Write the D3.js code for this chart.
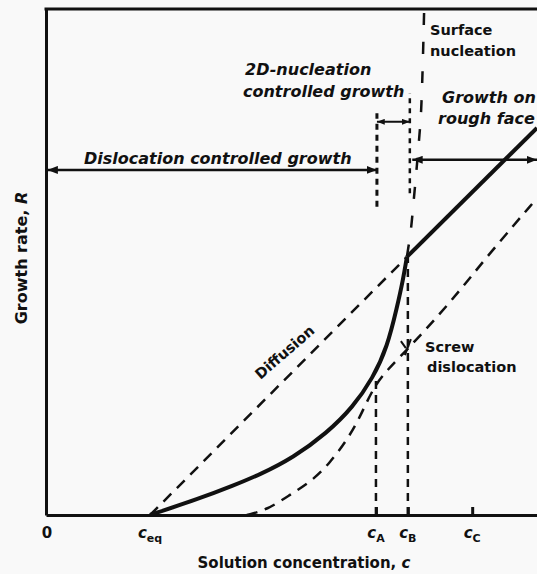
<!DOCTYPE html>
<html lang="en">
<head>
<meta charset="UTF-8">
<title>Growth rate vs solution concentration</title>
<script src="https://d3js.org/d3.v7.min.js"></script>
<style>
  body { margin: 0; background: #f9f9f9; }
  svg text { font-family: "DejaVu Sans", sans-serif; fill: #111; }
  .lbl { font-weight: bold; font-style: italic; font-size: 16px; }
  .note { font-weight: bold; font-size: 14.5px; }
  .axtitle { font-weight: bold; font-size: 15px; }
  .tick-lbl { font-weight: bold; font-size: 15px; }
</style>
</head>
<body>
<svg width="537" height="574"></svg>
<script>
// concentrations on the x axis (arbitrary units 0..100)
const cEq = 21.2, cA = 67.2, cB = 73.7, cC = 86.8;
const tickValues = [0, cEq, cA, cB, cC];
const tickMain = ["0", "c", "c", "c", "c"];
const tickSub = ["", "eq", "A", "B", "C"];

// curves as [c, R] pairs (R in arbitrary units 0..100)
const growthCurve = [[21.2, 0], [31.4, 3.3], [38.1, 5.8], [43.6, 8.0], [50.3, 11.3],
  [57.2, 16.2], [62.5, 21.3], [66.6, 27.1], [69.5, 33.2], [71.5, 41.1], [72.7, 46.4], [73.5, 51.0]];
const roughFace = [[73.5, 51.0], [100, 76.5]];
const diffusion = [[21.2, 0], [73.5, 51.0]];
const screw = [[40.9, 0], [45.0, 1.0], [49.7, 4.0], [54.4, 6.9], [57.8, 10.3], [61.3, 14.8],
  [64.0, 19.4], [66.6, 25.1], [69.5, 28.7], [73.5, 32.6], [82.3, 41.9], [90.4, 51.8], [100, 62.6]];
const surfaceNuc = [[77.0, 99.2], [76.4, 80.0], [75.8, 72.1], [74.9, 62.3], [74.3, 56.3], [73.5, 51.0]];

// regime boundaries / arrows (data units)
const cA2 = 67.4, cB2 = 74.1, cRough = 74.6;
const dislocArrowR = 68.2, nuclArrowR = 77.7, roughArrowR = 70.2;
const boundA = [60.9, 79.4], boundB = [63.6, 83.4];

const svg = d3.select("svg");
const x = d3.scaleLinear().domain([0, 100]).range([46, 537]);
const y = d3.scaleLinear().domain([0, 100]).range([515, 9]);
const ink = "#111";

// arrow heads
const defs = svg.append("defs");
function marker(id, size) {
  defs.append("marker").attr("id", id)
    .attr("markerUnits", "userSpaceOnUse")
    .attr("markerWidth", size * 1.3).attr("markerHeight", size)
    .attr("refX", size * 1.3).attr("refY", size / 2)
    .attr("orient", "auto-start-reverse")
    .append("path")
    .attr("d", `M0,0 L${size * 1.3},${size / 2} L0,${size} z`)
    .attr("fill", ink);
}
marker("ah", 8);
marker("ahs", 6);

// axes
svg.append("g").attr("transform", `translate(0,${y(0)})`)
  .call(d3.axisBottom(x).tickValues([cA, cB, cC]).tickSize(-8).tickSizeOuter(0).tickFormat(""))
  .call(g => g.selectAll("path,line").attr("stroke", ink).attr("stroke-width", 3));
svg.append("g").attr("transform", `translate(${x(0)},0)`)
  .call(d3.axisLeft(y).tickValues([]).tickSizeOuter(0))
  .call(g => g.selectAll("path").attr("stroke", ink).attr("stroke-width", 3));
svg.append("line")
  .attr("x1", x(0) - 1.5).attr("x2", x(100)).attr("y1", y(100)).attr("y2", y(100))
  .attr("stroke", ink).attr("stroke-width", 3);

// tick labels
const tl = svg.append("g").attr("class", "tick-lbl");
tickValues.forEach((v, i) => {
  const t = tl.append("text").attr("x", x(v) + (i === 0 ? 1 : 0)).attr("y", 538)
    .attr("text-anchor", "middle");
  t.append("tspan").style("font-style", i === 0 ? "normal" : "italic").text(tickMain[i]);
  if (tickSub[i]) t.append("tspan").attr("dy", 4).style("font-size", "11px").text(tickSub[i]);
});

// axis titles
const xt = svg.append("text").attr("class", "axtitle").attr("x", 304).attr("y", 568)
  .attr("text-anchor", "middle");
xt.append("tspan").text("Solution concentration, ");
xt.append("tspan").style("font-style", "italic").text("c");
const yt = svg.append("text").attr("class", "axtitle").attr("text-anchor", "middle")
  .attr("transform", "translate(27,258) rotate(-90)").style("font-size", "16px");
yt.append("tspan").text("Growth rate, ");
yt.append("tspan").style("font-style", "italic").text("R");

const line = d3.line().x(d => x(d[0])).y(d => y(d[1]));
const smooth = d3.line().x(d => x(d[0])).y(d => y(d[1])).curve(d3.curveBasis);
const smoothY = d3.line().x(d => x(d[0])).y(d => y(d[1])).curve(d3.curveCatmullRom.alpha(0.5));

function draw(data, gen, width, dash) {
  svg.append("path").datum(data).attr("d", gen)
    .attr("fill", "none").attr("stroke", ink).attr("stroke-width", width)
    .attr("stroke-dasharray", dash || null)
    .attr("stroke-linecap", "butt").attr("stroke-linejoin", "round");
}

// dashed mechanism curves
draw(diffusion, line, 2.5, "11,8");
draw(screw, smooth, 2.5, "11,8");
draw(surfaceNuc, smoothY, 2.5, "12,17");

// vertical dashed lines at cA and cB
draw([[cA, 0], [cA, 27]], line, 2.5, "8,6");
draw([[cB, 0], [cB, 51]], line, 2.5, "8,6");
draw([[cA2, boundA[0]], [cA2, boundA[1]]], line, 3, "6,5");
draw([[cB2, boundB[0]], [cB2, boundB[1]]], line, 2.5, "5,5");

// overall growth rate
draw(growthCurve, smooth, 4);
draw(roughFace, line, 4);

// regime arrows
function arrow(c0, c1, r, m, w) {
  svg.append("line").attr("x1", x(c0)).attr("x2", x(c1)).attr("y1", y(r)).attr("y2", y(r))
    .attr("stroke", ink).attr("stroke-width", w)
    .attr("marker-start", `url(#${m})`).attr("marker-end", `url(#${m})`);
}
arrow(0.3, cA2, dislocArrowR, "ah", 2.5);
arrow(cA2, cB2, nuclArrowR, "ahs", 2);
arrow(cRough, 100, roughArrowR, "ah", 2.5);

// screw dislocation pointer
const sp = screw[9];
svg.append("path")
  .attr("d", `M${x(sp[0]) - 6},${y(sp[1]) - 9} L${x(sp[0]) - 1},${y(sp[1]) - 2}` +
    ` M${x(sp[0]) + 4},${y(sp[1]) - 11} L${x(sp[0]) - 2},${y(sp[1]) + 5}`)
  .attr("stroke", ink).attr("stroke-width", 2).attr("fill", "none");

// labels
svg.append("text").attr("class", "lbl").attr("x", 84).attr("y", 164).text("Dislocation controlled growth");
svg.append("text").attr("class", "lbl").attr("x", 245).attr("y", 75).text("2D-nucleation");
svg.append("text").attr("class", "lbl").attr("x", 243).attr("y", 97).text("controlled growth");
svg.append("text").attr("class", "lbl").attr("x", 442).attr("y", 103).text("Growth on");
svg.append("text").attr("class", "lbl").attr("x", 438).attr("y", 124).text("rough face");
svg.append("text").attr("class", "note").attr("x", 430).attr("y", 35).text("Surface");
svg.append("text").attr("class", "note").attr("x", 430).attr("y", 56).text("nucleation");
svg.append("text").attr("class", "note").attr("x", 425).attr("y", 352).text("Screw");
svg.append("text").attr("class", "note").attr("x", 427).attr("y", 372).text("dislocation");
svg.append("text").attr("class", "note").attr("text-anchor", "middle")
  .attr("transform", "translate(288,356) rotate(-41)").text("Diffusion");
</script>
</body>
</html>
